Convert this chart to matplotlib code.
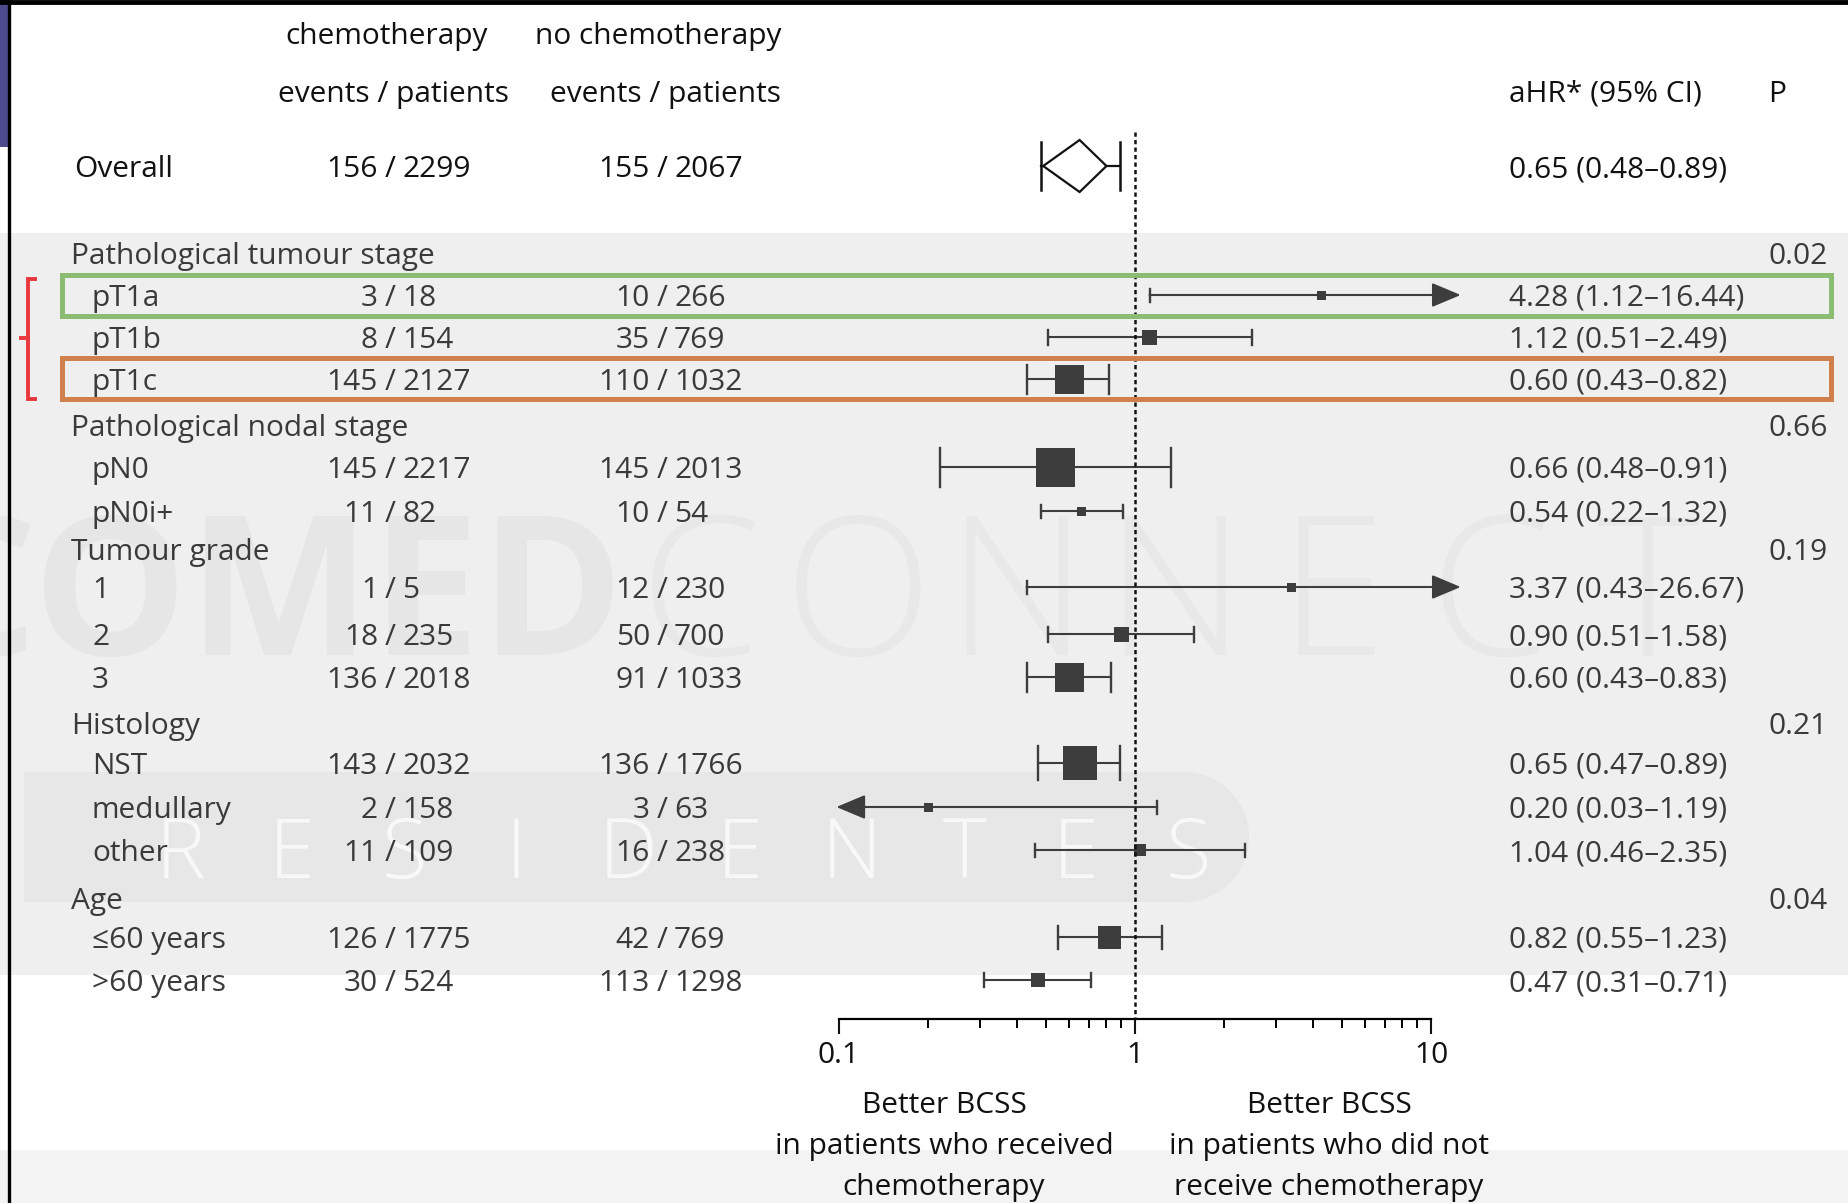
import matplotlib
matplotlib.use("Agg")
import matplotlib.pyplot as plt
from matplotlib.patches import Rectangle, Polygon, FancyBboxPatch, Ellipse
from matplotlib.transforms import blended_transform_factory
from matplotlib.ticker import FixedLocator, NullFormatter

plt.rcParams['font.family'] = ['Open Sans', 'DejaVu Sans']

# ---------------- data ----------------
overall_label = "Overall"
overall_chemo = (156, 2299)
overall_nochemo = (155, 2067)
overall_hr, overall_lo, overall_hi = 0.65, 0.48, 0.89

subgroup_titles = ['Pathological tumour stage', 'Pathological nodal stage',
                   'Tumour grade', 'Histology', 'Age']
interaction_p = ['0.02', '0.66', '0.19', '0.21', '0.04']

item_labels = ['pT1a', 'pT1b', 'pT1c', 'pN0', 'pN0i+', '1', '2', '3',
               'NST', 'medullary', 'other', '≤60 years', '>60 years']
chemo_events = [3, 8, 145, 145, 11, 1, 18, 136, 143, 2, 11, 126, 30]
chemo_patients = [18, 154, 2127, 2217, 82, 5, 235, 2018, 2032, 158, 109, 1775, 524]
nochemo_events = [10, 35, 110, 145, 10, 12, 50, 91, 136, 3, 16, 42, 113]
nochemo_patients = [266, 769, 1032, 2013, 54, 230, 700, 1033, 1766, 63, 238, 769, 1298]
ahr = [4.28, 1.12, 0.60, 0.66, 0.54, 3.37, 0.90, 0.60, 0.65, 0.20, 1.04, 0.82, 0.47]
ci_low = [1.12, 0.51, 0.43, 0.48, 0.22, 0.43, 0.51, 0.43, 0.47, 0.03, 0.46, 0.55, 0.31]
ci_high = [16.44, 2.49, 0.82, 0.91, 1.32, 26.67, 1.58, 0.83, 0.89, 1.19, 2.35, 1.23, 0.71]
# in the published figure the pN0 / pN0i+ markers are drawn in each other's rows
marker_row = [0, 1, 2, 4, 3, 5, 6, 7, 8, 9, 10, 11, 12]

axis_ticks = [0.1, 1, 10]
axis_ticklabels = ['0.1', '1', '10']

# ---------------- layout (pixels) ----------------
W, H = 1848, 1203
X_ONE = 1135.0        # pixel of HR = 1
PX_DEC = 296.0        # pixels per decade
CLIP_LO, CLIP_HI = 0.098, 12.6
header_y = [253, 425, 549, 723, 898]
item_y = [295, 337, 379, 467, 511, 587, 634, 677, 763, 807, 850, 937, 980]
box_px = [9, 15, 29, 39, 9, 9, 15, 29, 34, 9, 12, 23, 14]   # per row position
overall_y = 166
AXIS_Y = 1019
FS = 21.5
CAP_HALF = 11   # baseline offset from row centre

fig = plt.figure(figsize=(W / 100, H / 100), dpi=100)
ax = fig.add_axes([0, 0, 1, 1])
ax.set_xscale('log')
ax.set_xlim(10 ** ((0 - X_ONE) / PX_DEC), 10 ** ((W - X_ONE) / PX_DEC))
ax.set_ylim(H, 0)
ax.patch.set_facecolor('white')
tr = blended_transform_factory(ax.transAxes, ax.transData)


def px(x):
    return x / W


# backgrounds
ax.axhspan(233, 975, color='#efefef', zorder=0, lw=0)
ax.axhspan(1150, H, color='#f3f3f3', zorder=0, lw=0)

# watermark
ax.add_patch(Rectangle((px(24), 772), px(1160), 130, transform=tr,
                       facecolor='#e7e7e7', edgecolor='none', zorder=0.5))
ax.add_patch(Ellipse((px(1184), 837), px(130), 130, transform=tr,
                     facecolor='#e7e7e7', edgecolor='none', zorder=0.5))
ax.text(px(625), 655, 'COMED', transform=tr, ha='right', va='baseline', fontsize=140,
        fontweight='bold', color='#e6e6e6', zorder=0.6)
for i, ch in enumerate('CONNECT'):
    ax.text(px(700 + i * 158), 655, ch, transform=tr, ha='center', va='baseline',
            fontsize=140, fontweight='light', color='#e8e8e8', zorder=0.6)
for i, ch in enumerate('RESIDENTES'):
    ax.text(px(180 + i * 112), 878, ch, transform=tr, ha='center', va='baseline',
            fontsize=60, fontweight='light', color='white', alpha=0.75, zorder=0.7)

# frame of screenshot
ax.add_patch(Rectangle((0, 0), px(8), 147, transform=tr, facecolor='#4d4a8e',
                       edgecolor='none', zorder=5))
ax.plot([px(8.5), px(8.5)], [0, H], transform=tr, color='black', lw=2.4, zorder=6)
ax.plot([0, 1], [2, 2], transform=tr, color='black', lw=3.5, zorder=6)

# column headers
txt = dict(transform=tr, fontsize=FS, va='baseline', zorder=4)
ax.text(px(387), 33 + CAP_HALF, 'chemotherapy', ha='center', color='#111111', **txt)
ax.text(px(394), 91 + CAP_HALF, 'events / patients', ha='center', color='#111111', **txt)
ax.text(px(658), 33 + CAP_HALF, 'no chemotherapy', ha='center', color='#111111', **txt)
ax.text(px(665), 91 + CAP_HALF, 'events / patients', ha='center', color='#111111', **txt)
ax.text(px(1509), 91 + CAP_HALF, 'aHR* (95% CI)', ha='left', color='#111111', **txt)
ax.text(px(1768), 91 + CAP_HALF, 'P', ha='left', color='#111111', **txt)

SLASH1, SLASH2, GAP = 390, 662, 12


def counts(y, ev, pt, col, slash):
    ax.text(px(slash), y + CAP_HALF, '/', ha='center', color=col, **txt)
    ax.text(px(slash - GAP), y + CAP_HALF, str(ev), ha='right', color=col, **txt)
    ax.text(px(slash + GAP), y + CAP_HALF, str(pt), ha='left', color=col, **txt)


# overall row
ax.text(px(74), overall_y + CAP_HALF, overall_label, ha='left', color='#111111', **txt)
counts(overall_y, *overall_chemo, '#111111', SLASH1)
counts(overall_y, *overall_nochemo, '#111111', SLASH2)
ax.text(px(1509), overall_y + CAP_HALF,
        f'{overall_hr:.2f} ({overall_lo:.2f}–{overall_hi:.2f})', ha='left', color='#111111', **txt)

# overall diamond
LC = '#111111'
dl, dr, dh = overall_lo * 1.02, overall_hi * 0.90, 26
ax.add_patch(Polygon([[dl, overall_y], [overall_hr, overall_y - dh], [dr, overall_y],
                      [overall_hr, overall_y + dh]], closed=True, fill=False,
                     edgecolor=LC, lw=1.6, zorder=3))
ax.plot([overall_lo, dl], [overall_y, overall_y], color=LC, lw=1.6, zorder=3)
ax.plot([dr, overall_hi], [overall_y, overall_y], color=LC, lw=1.6, zorder=3)
for xv in (overall_lo, overall_hi):
    ax.plot([xv, xv], [overall_y - 24, overall_y + 24], color=LC, lw=1.8, zorder=3)

# subgroup headers
TC = '#3a3a3a'
for t, p, y in zip(subgroup_titles, interaction_p, header_y):
    ax.text(px(71), y + CAP_HALF, t, ha='left', color=TC, **txt)
    ax.text(px(1768), y + CAP_HALF, p, ha='left', color=TC, **txt)

# items: text columns
for i, lab in enumerate(item_labels):
    y = item_y[i]
    ax.text(px(92), y + CAP_HALF, lab, ha='left', color=TC, **txt)
    counts(y, chemo_events[i], chemo_patients[i], TC, SLASH1)
    counts(y, nochemo_events[i], nochemo_patients[i], TC, SLASH2)
    ax.text(px(1509), y + CAP_HALF, f'{ahr[i]:.2f} ({ci_low[i]:.2f}–{ci_high[i]:.2f})',
            ha='left', color=TC, **txt)

# items: markers
MC = '#3d3d3d'
AP = dict(arrowstyle='-|>,head_length=1.0,head_width=0.42', mutation_scale=18, lw=1.5,
          color=MC, shrinkA=0, shrinkB=0)
for i in range(len(item_labels)):
    r = marker_row[i]
    y = item_y[r]
    lo, hi = ci_low[i], ci_high[i]
    lo_c, hi_c = max(lo, CLIP_LO), min(hi, CLIP_HI)
    cap = max(box_px[r], 13)
    if hi > CLIP_HI:
        ax.annotate('', xy=(hi_c, y), xytext=(lo_c, y), arrowprops=AP, zorder=2)
    elif lo < CLIP_LO:
        ax.annotate('', xy=(lo_c, y), xytext=(hi_c, y), arrowprops=AP, zorder=2)
    else:
        ax.plot([lo_c, hi_c], [y, y], color=MC, lw=1.5, zorder=2)
    for xv, ok in ((lo, lo >= CLIP_LO), (hi, hi <= CLIP_HI)):
        if ok:
            ax.plot([xv, xv], [y - cap / 2, y + cap / 2], color=MC, lw=1.7, zorder=2)
    ax.scatter([ahr[i]], [y], marker='s', s=(box_px[r] * 0.72) ** 2, color=MC,
               edgecolors='none', zorder=3)

# reference line
ax.plot([1, 1], [132, AXIS_Y], color='#111111', lw=1.8, linestyle=(0, (1.7, 1.3)), zorder=3)

# x-axis
for s in ['top', 'left', 'right']:
    ax.spines[s].set_visible(False)
ax.spines['bottom'].set_position(('data', AXIS_Y))
ax.spines['bottom'].set_bounds(axis_ticks[0], axis_ticks[-1])
ax.spines['bottom'].set_linewidth(1.6)
ax.spines['bottom'].set_zorder(4)
ax.set_xticks(axis_ticks)
ax.set_xticklabels(axis_ticklabels)
minor = [m * d for d in (0.1, 1) for m in range(2, 10)]
ax.xaxis.set_minor_locator(FixedLocator(minor))
ax.xaxis.set_minor_formatter(NullFormatter())
ax.tick_params(axis='x', which='major', direction='out', length=11, width=1.5,
               labelsize=FS, pad=5, colors='#111111')
ax.tick_params(axis='x', which='minor', direction='out', length=6.5, width=1.4)
ax.yaxis.set_visible(False)

# direction labels
for x0, lines in ((944, ['Better BCSS', 'in patients who received', 'chemotherapy']),
                  (1329, ['Better BCSS', 'in patients who did not', 'receive chemotherapy'])):
    for k, line in enumerate(lines):
        ax.text(px(x0), 1102 + 41 * k + CAP_HALF, line, ha='center', color='#111111', **txt)

# highlight boxes
ax.add_patch(Rectangle((px(62), 275), px(1769), 41, transform=tr, fill=False,
                       edgecolor='#8cbb72', lw=3.6, zorder=5))
ax.add_patch(Rectangle((px(62), 358), px(1769), 41, transform=tr, fill=False,
                       edgecolor='#d0804c', lw=3.6, zorder=5))
# red bracket
ax.plot([px(35), px(28), px(28), px(35)], [279, 279, 399, 399], transform=tr,
        color='#e8383d', lw=2.8, zorder=5, solid_joinstyle='miter')
ax.plot([px(21), px(28)], [338, 338], transform=tr, color='#e8383d', lw=2.8, zorder=5)

fig.savefig('out.png', dpi=100)
